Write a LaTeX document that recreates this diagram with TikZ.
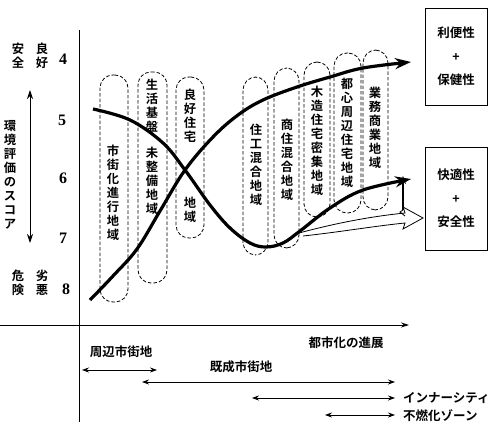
\documentclass[tikz,border=0pt]{standalone}
\usepackage{fontspec}
\newfontfamily\jp{Noto Sans CJK JP}[BoldFont={* Bold}]
\newfontfamily\numfont{Liberation Serif}
\usetikzlibrary{arrows.meta}
\begin{document}
\begin{tikzpicture}[x=1pt,y=-1pt,
  oval/.style={draw, dashed, dash pattern=on 3.5pt off 2pt, line width=0.8pt, rounded corners=13pt, inner sep=0pt},
  vtext/.style={align=center, inner sep=0pt, font=\jp\bfseries\fontsize{12.3}{14}\selectfont},
  htext/.style={inner sep=0pt, font=\jp\bfseries\fontsize{12.5}{14}\selectfont},
  num/.style={inner sep=0pt, font=\numfont\bfseries\fontsize{16}{16}\selectfont},
  box/.style={draw, line width=0.9pt, minimum width=62pt, align=center, inner sep=0pt, font=\jp\bfseries\fontsize{12.5}{23.5}\selectfont},
  curve/.style={line width=3.2pt, -{Stealth[length=16pt,width=11pt]}},
  span/.style={line width=0.8pt, {Stealth[length=7pt,width=5pt]}-{Stealth[length=7pt,width=5pt]}}
]
\useasboundingbox (0,0) rectangle (503,422);
% axes
\coordinate (vtop) at (79,30);
\coordinate (vbot) at (79,422);
\coordinate (hl) at (0,325);
\coordinate (hr) at (409,325);
\draw[line width=0.9pt] (vtop) -- (vbot);
\draw[line width=0.8pt, -{Stealth[length=8pt,width=5pt]}] (hl) -- (hr);
% scores
\node[num] (n4) at (63,59) {4};
\node[num] (n5) at (62,120) {5};
\node[num] (n6) at (63,178) {6};
\node[num] (n7) at (63,238) {7};
\node[num] (n8) at (66,289) {8};
% left labels
\node[vtext] (anzen) at (18,56) {安\\全};
\node[vtext] (ryoko) at (42,56) {良\\好};
\node[vtext] (kiken) at (18,283) {危\\険};
\node[vtext] (retsu) at (42,283) {劣\\悪};
\node[vtext] (score) at (10,175) {環\\境\\評\\価\\の\\ス\\コ\\ア};
\coordinate (sa) at (30,90);
\coordinate (sb) at (30,243);
\draw[line width=0.9pt, {Stealth[length=9pt,width=6pt]}-{Stealth[length=9pt,width=6pt]}] (sa) -- (sb);
% dashed ovals
\node[oval, minimum width=28pt, minimum height=227pt] (o1) at (114,188.5) {};
\node[oval, minimum width=29pt, minimum height=211pt] (o2) at (152.5,177.5) {};
\node[oval, minimum width=28pt, minimum height=161pt] (o3) at (190,157.5) {};
\node[oval, minimum width=25pt, minimum height=178pt] (o4) at (255.5,166) {};
\node[oval, minimum width=25pt, minimum height=180pt] (o5) at (286.5,158) {};
\node[oval, minimum width=26pt, minimum height=155pt] (o6) at (317,139.5) {};
\node[oval, minimum width=27pt, minimum height=160pt] (o7) at (347.5,133) {};
\node[oval, minimum width=25pt, minimum height=160pt] (o8) at (375.5,130) {};
% oval texts
\node[vtext] (t1) at (113,193) {市\\街\\化\\進\\行\\地\\域};
\node[vtext] (t2a) at (152,106) {生\\活\\基\\盤};
\node[vtext] (t2b) at (152,181) {未\\整\\備\\地\\域};
\node[vtext] (t3a) at (190,116) {良\\好\\住\\宅};
\node[vtext] (t3b) at (190,210) {地\\域};
\node[vtext] (t4) at (256,165) {住\\工\\混\\合\\地\\域};
\node[vtext] (t5) at (287,160) {商\\住\\混\\合\\地\\域};
\node[vtext] (t6) at (317,141) {木\\造\\住\\宅\\密\\集\\地\\域};
\node[vtext] (t7) at (347,133) {都\\心\\周\\辺\\住\\宅\\地\\域};
\node[vtext] (t8) at (375,128) {業\\務\\商\\業\\地\\域};
% curves
\draw[curve] plot[smooth, tension=0.6] coordinates {(90,300) (113,276) (137,249) (160,211) (185,170) (213,137) (238,115) (263,100) (297,87) (330,77) (363,68) (411,62)};
\draw[curve] plot[smooth, tension=0.6] coordinates {(93,109) (130,120) (163,143) (185,170) (210,205) (230,228) (250,243) (266,247) (283,243) (300,231) (330,208) (363,190) (411,179)};
% hollow arrow
\coordinate (hs) at (299,233);
\draw[line width=0.8pt, line join=miter] (hs) .. controls (340,222) and (375,216) .. (405,213) -- (403,207) -- (423,218) -- (403,229) -- (405,223) .. controls (375,226) and (340,232) .. (303,236);
% vertical small arrow
\coordinate (va) at (403,210);
\coordinate (vb) at (403,176);
\draw[line width=0.8pt] (405,216) -- (400,212) -- (va);
\draw[line width=1.6pt, -{Stealth[length=8pt,width=6pt]}] (va) -- (vb);
% boxes
\node[box, minimum height=97pt] (b1) at (456,56.5) {利便性\\+\\保健性};
\node[box, minimum height=103pt] (b2) at (456,198.5) {快適性\\+\\安全性};
% bottom
\node[htext] (prog) at (346,343) {都市化の進展};
\node[htext] (shuhen) at (121,352) {周辺市街地};
\node[htext] (kisei) at (241,367) {既成市街地};
\coordinate (a1l) at (82,370); \coordinate (a1r) at (157,370);
\coordinate (a2l) at (142,382); \coordinate (a2r) at (395,382);
\coordinate (a3l) at (252,398); \coordinate (a3r) at (395,398);
\coordinate (a4l) at (325,415); \coordinate (a4r) at (395,415);
\draw[span] (a1l) -- (a1r);
\draw[span] (a2l) -- (a2r);
\draw[span] (a3l) -- (a3r);
\draw[span] (a4l) -- (a4r);
\node[htext, anchor=west] (inner) at (403,398) {インナーシティ};
\node[htext, anchor=west] (funen) at (403,416) {不燃化ゾーン};
\end{tikzpicture}
\end{document}
